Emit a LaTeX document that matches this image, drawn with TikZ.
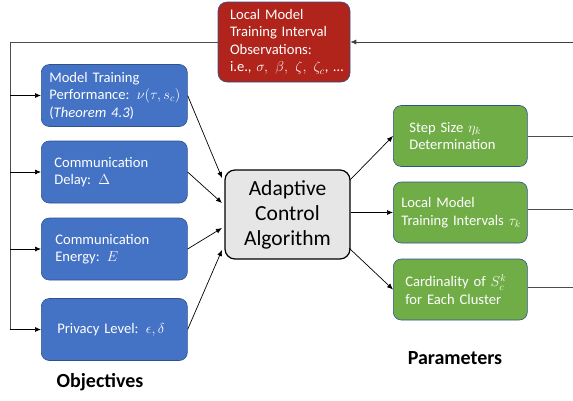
\documentclass[tikz,border=0pt]{standalone}
\usepackage{fontspec}
\setmainfont{Carlito}
\usetikzlibrary{arrows.meta}
\definecolor{objblue}{HTML}{4472C4}
\definecolor{parggreen}{HTML}{70AD47}
\definecolor{obsred}{HTML}{B0241C}
\definecolor{edgeblue}{HTML}{2F528F}
\definecolor{ctrgray}{HTML}{E6E6E6}
\hbadness=10000 \hfuzz=100pt
\tikzset{
  objbox/.style={draw=edgeblue, fill=objblue, rounded corners=8pt, text=white,
    minimum width=146pt, minimum height=62pt, align=left, anchor=west,
    font=\fontsize{14.6}{17.5}\selectfont, line width=0.6pt},
  parbox/.style={draw=edgeblue, fill=parggreen, rounded corners=8pt, text=white,
    minimum width=134pt, minimum height=61pt, align=left, anchor=west,
    font=\fontsize{14.6}{17.5}\selectfont, line width=0.6pt},
  obsbox/.style={draw=edgeblue, fill=obsred, rounded corners=9pt, text=white,
    minimum width=132pt, minimum height=80pt, align=left,
    font=\fontsize{14.6}{17.5}\selectfont, line width=0.6pt},
  ctrbox/.style={draw=black, fill=ctrgray, rounded corners=10pt, line width=1.2pt,
    minimum width=125pt, minimum height=89pt, align=center,
    font=\fontsize{21.5}{25}\selectfont},
  conn/.style={-{Latex[length=6pt,width=5pt]}, line width=0.7pt},
  plain/.style={line width=0.9pt, draw=black!70},
  heading/.style={font=\fontsize{20}{24}\selectfont\bfseries}
}
\begin{document}
\begin{tikzpicture}[x=1pt,y=-1pt]
\useasboundingbox (0,0) rectangle (573,400);
% observations box
\node[obsbox, text width=108pt, inner xsep=12pt] (obs) at (284,42) {Local Model\\Training Interval\\Observations:\\\mbox{i.e., $\sigma,\ \beta,\ \zeta,\ \zeta_c$, \dots}};
% objectives
\node[objbox, text width=130pt, inner xsep=8pt] (b1) at (41,95.5) {Model Training\\\mbox{Performance: $\nu(\tau,s_c)$}\\(\textit{Theorem 4.3})};
\node[objbox, text width=120pt, inner xsep=13pt] (b2) at (41,172) {Communication\\Delay: $\Delta$};
\node[objbox, text width=118pt, inner xsep=14pt] (b3) at (41,249) {Communication\\Energy: $E$};
\node[objbox, text width=114pt, inner xsep=16pt] (b4) at (41,329.5) {Privacy Level: $\epsilon,\delta$};
% center
\node[ctrbox] (ctr) at (287.5,214.5) {Adaptive\\Control\\Algorithm};
% parameters
\node[parbox, text width=102pt, inner xsep=16pt] (g1) at (393,136) {Step Size $\eta_k$\\Determination};
\node[parbox, text width=118pt, inner xsep=8pt] (g2) at (393,212.5) {Local Model\\\mbox{Training Intervals $\tau_k$}};
\node[parbox, text width=110pt, inner xsep=12pt] (g3) at (393,289.5) {\mbox{Cardinality of $S_c^k$}\\for Each Cluster};
% headings
\node[heading] (objl) at (100,382) {Objectives};
\node[heading] (parl) at (455,358) {Parameters};
% feedback lines
\coordinate (rin) at (573,42);
\coordinate (vl) at (10,42);
\draw[conn, draw=black!75] (rin) -- (obs.east);
\draw[plain] (obs.west) -- (vl) -- (vl |- b4.west);
\foreach \b in {b1,b2,b3,b4}{
  \draw[conn] (vl |- \b.west) -- (\b.west);
}
% objective to center
\coordinate (c1) at (222,178);
\coordinate (c2) at (222,203);
\coordinate (c3) at (222,228);
\coordinate (c4) at (222,250);
\draw[conn] (b1.east) -- (c1);
\draw[conn] (b2.east) -- (c2);
\draw[conn] (b3.east) -- (c3);
\draw[conn] (b4.east) -- (c4);
% center to parameters
\coordinate (s1) at (350,180);
\coordinate (s3) at (349,248);
\draw[conn] (s1) -- (g1.west);
\draw[conn] (ctr.east |- g2.west) -- (g2.west);
\draw[conn] (s3) -- (g3.west);
% outputs
\coordinate (o1) at (573,136);
\coordinate (o2) at (573,209);
\coordinate (o3) at (573,287);
\draw[plain] (g1.east) -- (o1);
\draw[plain] (g2.east |- o2) -- (o2);
\draw[plain] (g3.east |- o3) -- (o3);
\end{tikzpicture}
\end{document}
